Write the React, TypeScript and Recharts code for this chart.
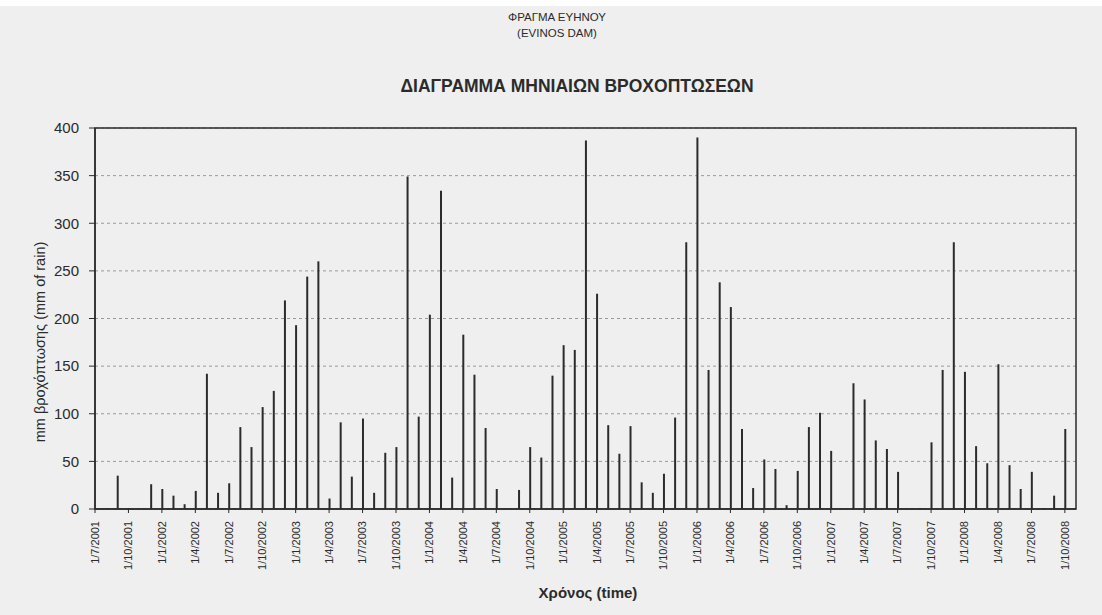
import React from "react"
import { BarChart, Bar, XAxis, YAxis, CartesianGrid, ReferenceArea } from "recharts"

// monthly rainfall (mm), Aug 2001 .. Oct 2008
const rainMm = [
  1, 35, 1, 0, 26, 21, 14, 5, 19, 142, 17,
  27, 86, 65, 107, 124, 219, 193, 244, 260, 11, 91, 34,
  95, 17, 59, 65, 349, 97, 204, 334, 33, 183, 141, 85,
  21, 0, 20, 65, 54, 140, 172, 167, 387, 226, 88, 58,
  87, 28, 17, 37, 96, 280, 390, 146, 238, 212, 84, 22,
  52, 42, 4, 40, 86, 101, 61, 0, 132, 115, 72, 63,
  39, 0, 1, 70, 146, 280, 144, 66, 48, 152, 46, 21,
  39, 1, 14, 84,
]

// quarterly tick labels, first one is the axis origin (1/7/2001)
const tickLabels = [
  "1/7/2001", "1/10/2001",
  "1/1/2002", "1/4/2002", "1/7/2002", "1/10/2002",
  "1/1/2003", "1/4/2003", "1/7/2003", "1/10/2003",
  "1/1/2004", "1/4/2004", "1/7/2004", "1/10/2004",
  "1/1/2005", "1/4/2005", "1/7/2005", "1/10/2005",
  "1/1/2006", "1/4/2006", "1/7/2006", "1/10/2006",
  "1/1/2007", "1/4/2007", "1/7/2007", "1/10/2007",
  "1/1/2008", "1/4/2008", "1/7/2008", "1/10/2008",
]

const yTicks = [0, 50, 100, 150, 200, 250, 300, 350, 400]

const data = rainMm.map((mm, i) => ({ month: i + 1, mm }))
const xTicks = tickLabels.map((_, i) => i * 3)

const FONT = "'Liberation Sans', Arial, sans-serif"
const INK = "#2b2b2b"

function DateTick({ x, y, payload }: any) {
  const label = tickLabels[payload.value / 3]
  return (
    <g transform={`translate(${x},${y})`}>
      <text
        transform="rotate(-90)"
        x={-6}
        y={0}
        dy="0.35em"
        textAnchor="end"
        fontSize={11}
        fontFamily={FONT}
        fill={INK}
      >
        {label}
      </text>
    </g>
  )
}

export default function App() {
  return (
    <div
      style={{
        position: "absolute",
        left: 0,
        top: 0,
        width: 1102,
        height: 615,
        background: "#efefef",
        fontFamily: FONT,
        color: INK,
        overflow: "hidden",
      }}
    >
      <div style={{ position: "absolute", left: 0, top: 0, width: 1102, height: 6, background: "#fff" }} />
      <div style={{ position: "absolute", left: 457, width: 200, top: 9, textAlign: "center", fontSize: 11.5, lineHeight: "16px" }}>
        ΦΡΑΓΜΑ ΕΥΗΝΟΥ
        <br />
        (EVINOS DAM)
      </div>
      <div
        style={{
          position: "absolute",
          left: 327,
          width: 500,
          top: 76,
          textAlign: "center",
          fontSize: 17.5,
          fontWeight: "bold",
        }}
      >
        ΔΙΑΓΡΑΜΜΑ ΜΗΝΙΑΙΩΝ ΒΡΟΧΟΠΤΩΣΕΩΝ
      </div>

      <div style={{ position: "absolute", left: 0, top: 0 }}>
        <BarChart
          width={1102}
          height={615}
          data={data}
          margin={{ top: 128, right: 26, bottom: 46, left: 35 }}
        >
          <CartesianGrid vertical={false} stroke="#9a9a9a" strokeDasharray="3 3" />
          <XAxis
            type="number"
            dataKey="month"
            domain={[0, 88]}
            ticks={xTicks}
            interval={0}
            height={60}
            tickSize={4}
            tickMargin={2}
            tick={<DateTick />}
            axisLine={{ stroke: INK, strokeWidth: 1.5 }}
            tickLine={{ stroke: INK }}
          />
          <YAxis
            type="number"
            domain={[0, 400]}
            ticks={yTicks}
            interval={0}
            width={60}
            tickSize={6}
            tickMargin={10}
            tick={{ fontSize: 15, fontFamily: FONT, fill: INK }}
            axisLine={{ stroke: INK, strokeWidth: 1.5 }}
            tickLine={{ stroke: INK }}
          />
          <ReferenceArea x1={0} x2={88} y1={0} y2={400} fill="none" stroke={INK} strokeWidth={1.5} />
          <Bar dataKey="mm" fill={INK} barSize={2} isAnimationActive={false} />
        </BarChart>
      </div>

      <div
        style={{
          position: "absolute",
          left: 40,
          top: 342,
          transform: "translate(-50%, -50%) rotate(-90deg)",
          whiteSpace: "nowrap",
          fontSize: 14.5,
        }}
      >
        mm βροχόπτωσης (mm of rain)
      </div>
      <div
        style={{
          position: "absolute",
          left: 488,
          width: 200,
          top: 584,
          textAlign: "center",
          fontSize: 15,
          fontWeight: "bold",
        }}
      >
        Χρόνος (time)
      </div>
    </div>
  )
}
